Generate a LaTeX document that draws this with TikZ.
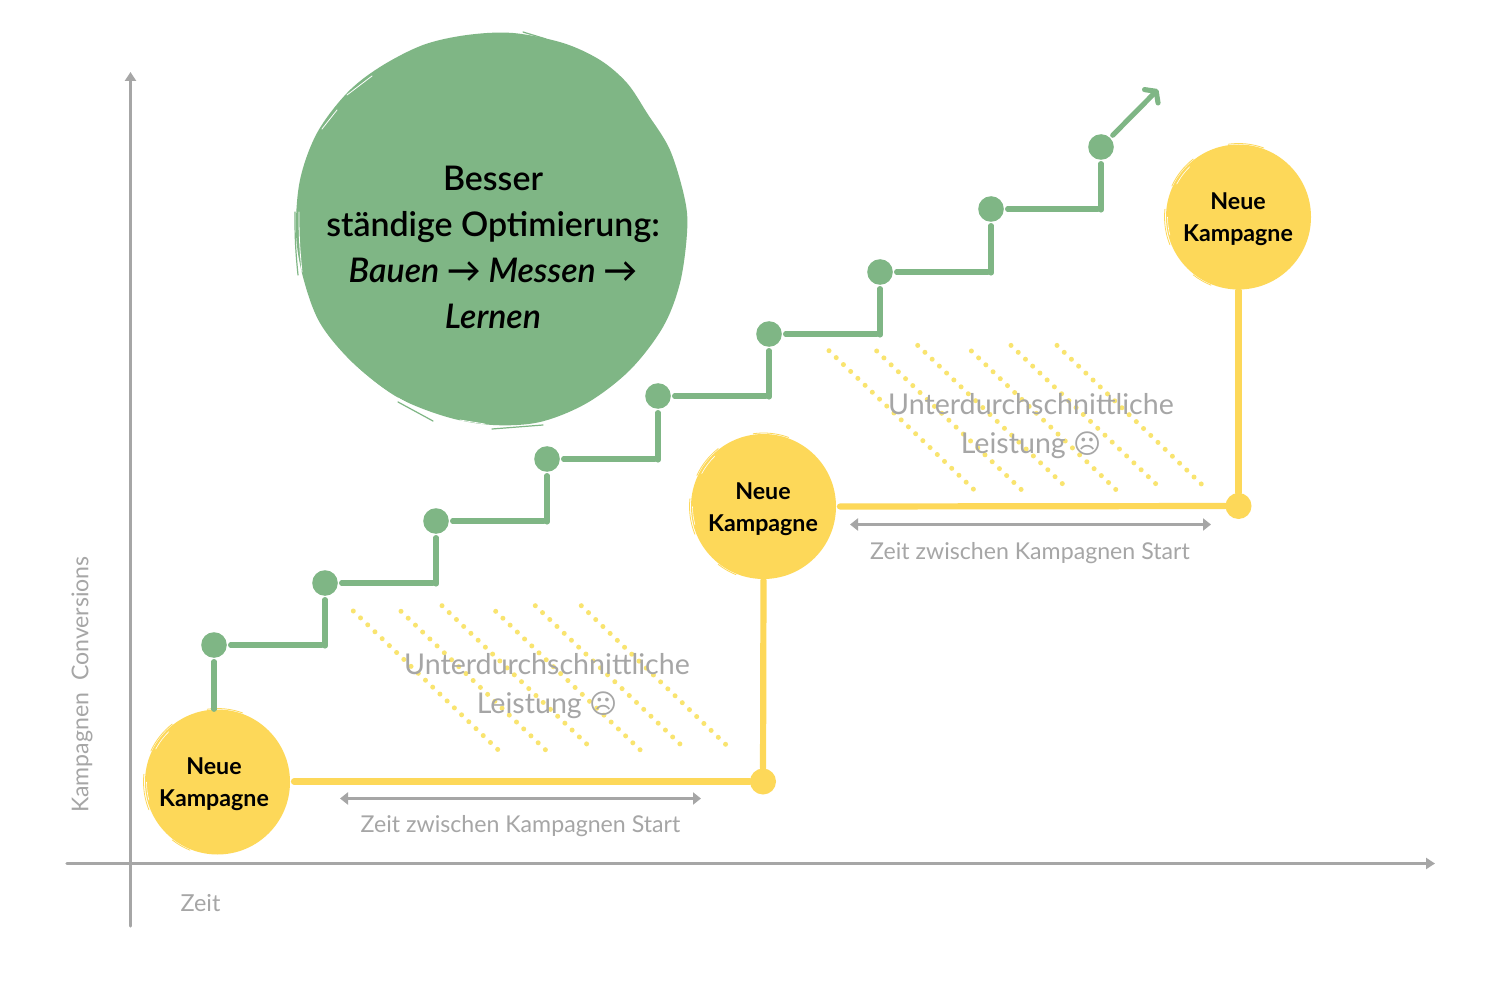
\documentclass[tikz,border=0pt]{standalone}
\usepackage{fontspec}
\setmainfont{Lato}
\newfontfamily\latomed{Lato Semibold}[ItalicFont={Lato Semibold Italic}]
\newfontfamily\dejavu{DejaVu Sans}
\usetikzlibrary{arrows.meta}
\definecolor{grn}{HTML}{7FB685}
\definecolor{ylw}{HTML}{FDD859}
\definecolor{dotylw}{HTML}{F9E46F}
\definecolor{gry}{HTML}{A6A6A6}
\tikzset{
 x=1pt,y=-1pt,
 gdot/.style={circle,fill=grn,inner sep=0pt,minimum size=25.6pt},
 ydot/.style={circle,fill=ylw,inner sep=0pt,minimum size=26pt},
 gline/.style={draw=grn,line width=5.1pt,line cap=round},
 yline/.style={draw=ylw,line width=6.2pt,line cap=round},
 axisline/.style={draw=gry,line width=3.3pt,line cap=round,-{Triangle[length=9pt,width=11pt]}},
 span/.style={draw=gry,line width=3.6pt,{Triangle[length=8pt,width=12pt]}-{Triangle[length=8pt,width=12pt]}},
 hatch/.style={draw=dotylw,line width=5pt,line cap=round,dash pattern=on 0pt off 10pt},
 kamp/.style={circle,fill=ylw,inner sep=0pt,minimum size=145pt},
 kamptext/.style={align=center,font=\fontsize{23.2}{32}\selectfont\bfseries,text=black},
 gtext/.style={align=center,text=gry},
 scratch/.style={line width=1.2pt,line cap=round},
 bscratch/.style={line width=.8pt,line cap=round,draw=ylw},
}
\newcommand{\hatchset}[2]{%
 \begin{scope}[shift={(#1,#2)}]
 \draw[hatch] (353.3,611) -- (498.3,750);
 \draw[hatch] (401,611.3) -- (545.7,750);
 \draw[hatch] (442,605.7) -- (586.7,744);
 \draw[hatch] (495.7,611.3) -- (640.3,750);
 \draw[hatch] (535.3,605.7) -- (680,744);
 \draw[hatch] (581.3,605.7) -- (726,744.7);
 \end{scope}}
\newcommand{\brush}[2]{%
 \begin{scope}[shift={(#1,#2)}]
 \draw[bscratch] (262:73.5) arc[start angle=262,end angle=290,radius=73.5];
 \draw[bscratch] (205:73.5) arc[start angle=205,end angle=232,radius=73.5];
 \draw[bscratch] (158:74) arc[start angle=158,end angle=186,radius=74];
 \draw[bscratch] (112:73.5) arc[start angle=112,end angle=128,radius=73.5];
 \draw[draw=white,line width=.6pt] (208:70) arc[start angle=208,end angle=226,radius=70];
 \draw[draw=white,line width=.6pt] (165:71) arc[start angle=165,end angle=180,radius=71];
 \end{scope}}
\begin{document}
\begin{tikzpicture}
\useasboundingbox (0,0) rectangle (1500,1000);
\fill[white] (0,0) rectangle (1500,1000);

% axes
\coordinate (xa) at (67,863.5); \coordinate (xb) at (1435,863.5);
\coordinate (ya) at (130.5,926); \coordinate (yb) at (130.5,72);
\draw[axisline] (ya) -- (yb);
\draw[axisline] (xa) -- (xb);

% big blob
\fill[grn] plot[smooth cycle,tension=.55] coordinates {
 (513,33) (563,43) (600,60) (627,83) (647,113) (670,150) (685,200) (687,233)
 (680,283) (663,327) (630,370) (587,403) (540,422) (493,425) (447,417) (397,397)
 (353,363) (320,323) (303,277) (296,233) (300,180) (317,133) (347,93) (380,67)
 (423,45) (467,35)};
\draw[scratch,draw=grn] (523,32) -- (546,39);
\draw[scratch,draw=grn] (295,212) to[bend right=3] (298,275);
\draw[scratch,draw=grn] (398,402) -- (433,421);
\draw[scratch,draw=grn] (492,429) -- (543,425);
\draw[draw=white,line width=.8pt,line cap=round] (347,95) -- (372,76);
\draw[draw=white,line width=.7pt,line cap=round] (375,65) -- (412,47);
\draw[draw=white,line width=.8pt,line cap=round] (322,129) -- (337,110);
\draw[draw=white,line width=.8pt,line cap=round] (299,212) to[bend right=3] (302,272);
\draw[draw=white,line width=.8pt,line cap=round] (344,356) to[bend right=4] (390,394);
\draw[draw=white,line width=.7pt,line cap=round] (398,398) -- (432,417);
\draw[draw=white,line width=.7pt,line cap=round] (460,420) -- (485,424);

\node[align=center,text=black,font=\fontsize{33.9}{46}\selectfont\latomed] (besser) at (493,247)
 {Besser\\ständige Optimierung:\\\itshape Bauen → Messen →\\\itshape Lernen};

% hatches
\hatchset{0}{0}
\hatchset{475.7}{-260.3}

% green staircase
\node[gdot] (d1) at (214,645) {};
\node[gdot] (d2) at (325,583) {};
\node[gdot] (d3) at (436,521) {};
\node[gdot] (d4) at (547,459) {};
\node[gdot] (d5) at (658,396) {};
\node[gdot] (d6) at (769,334) {};
\node[gdot] (d7) at (880,272) {};
\node[gdot] (d8) at (991,209) {};
\node[gdot] (d9) at (1101,147) {};
\coordinate (tipend) at (1158,89.5);
\foreach \a/\b in {d1/d2,d2/d3,d3/d4,d4/d5,d5/d6,d6/d7,d7/d8,d8/d9}{
 \coordinate (c\a) at (\a -| \b);
 \draw[gline,shorten <=3.6pt] (\a.east) -- ([xshift=-3pt]c\a);
 \draw[gline,shorten >=3.6pt] ([yshift=-1pt]c\a) -- (\b.south);
}
\draw[gline,shorten <=3.6pt,-{Straight Barb[round,length=7pt,width=19pt,line width=5.1pt]}] (d9.45) -- (tipend);

% yellow circles
\node[kamp] (k1) at (217.5,782) {};
\node[kamp] (k2) at (763.5,506.5) {};
\node[kamp] (k3) at (1238.5,217) {};
\brush{217.5}{782}
\brush{763.5}{506.5}
\brush{1238.5}{217}
\node[kamptext] (k1t) at (214,784) {Neue\\Kampagne};
\node[kamptext] (k2t) at (763,509) {Neue\\Kampagne};
\node[kamptext] (k3t) at (1238,219) {Neue\\Kampagne};
\draw[gline,shorten <=3.6pt] (d1.south) -- (d1 |- k1.north);

% yellow connectors
\node[ydot] (y1) at (763,781.5) {};
\node[ydot] (y2) at (1238.5,506) {};
\draw[yline,shorten <=3.8pt] (k1.east |- y1) -- (y1);
\draw[yline,shorten >=1pt] (y1) -- (k2.south);
\draw[yline,shorten <=3.8pt] (k2.east) -- (y2);
\draw[yline,shorten >=1pt] (y2) -- (k3.south);

% spans
\coordinate (s1a) at (340,798.5); \coordinate (s1b) at (701,798.5);
\coordinate (s2a) at (850,524.5); \coordinate (s2b) at (1211,524.5);
\draw[span] (s1a) -- (s1b);
\draw[span] (s2a) -- (s2b);

% grey texts
\node[gtext,font=\fontsize{23.15}{23}\selectfont] (z1) at (520.5,826) {Zeit zwischen Kampagnen Start};
\node[gtext,font=\fontsize{23.15}{23}\selectfont] (z2) at (1030,553) {Zeit zwischen Kampagnen Start};
\node[gtext,font=\fontsize{28.6}{39}\selectfont] (u1) at (547,686.5) {Unterdurchschnittliche\\Leistung {\dejavu\fontsize{27}{39}\selectfont ☹}};
\node[gtext,font=\fontsize{28.6}{39}\selectfont] (u2) at (1031,426.5) {Unterdurchschnittliche\\Leistung {\dejavu\fontsize{27}{39}\selectfont ☹}};
\node[gtext,font=\fontsize{23.4}{23}\selectfont] (zeit) at (200.5,903.5) {Zeit};
\node[gtext,font=\fontsize{23.1}{23}\selectfont,rotate=90] (conv) at (82,684.5) {Kampagnen\ \ Conversions};
\end{tikzpicture}
\end{document}
